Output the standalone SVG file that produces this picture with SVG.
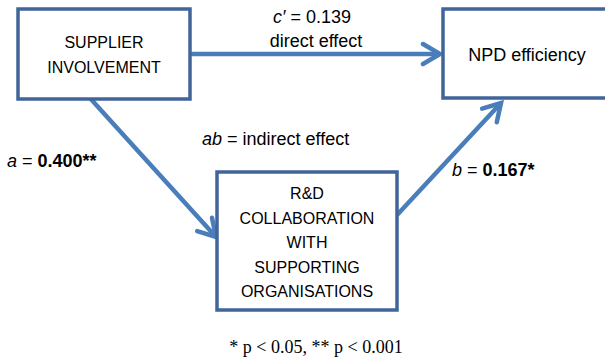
<svg xmlns="http://www.w3.org/2000/svg" width="605" height="360" viewBox="0 0 605 360">
<style>
.box{fill:#ffffff;stroke:#41659a;stroke-width:3.5}
.cap{font-family:"Liberation Sans",Arial,sans-serif;font-size:16px;fill:#000;text-anchor:middle}
.lbl{font-family:"Liberation Sans",Arial,sans-serif;font-size:18px;fill:#000}
.conn{stroke:#4a7ebb;stroke-width:4.5;fill:none}
.note{font-family:"Liberation Serif","Times New Roman",serif;font-size:18px;fill:#000;text-anchor:middle}
</style>
<defs>
<marker id="head" markerUnits="userSpaceOnUse" viewBox="-22 -14 26 28" markerWidth="26" markerHeight="28" refX="0" refY="0" orient="auto">
<path d="M -17 -10 L 0 0 L -17 10" fill="none" stroke="#4a7ebb" stroke-width="4.5" stroke-linecap="round" stroke-linejoin="miter"/>
</marker>
</defs>
<rect width="605" height="360" fill="#ffffff"/>
<g id="connectors">
<line class="conn" x1="190" y1="54" x2="440" y2="54" marker-end="url(#head)"/>
<line class="conn" x1="89" y1="97" x2="216" y2="237" marker-end="url(#head)"/>
<line class="conn" x1="397" y1="215" x2="501" y2="103" marker-end="url(#head)"/>
</g>
<g id="supplier">
<rect class="box" x="18" y="9" width="172" height="90"/>
<text class="cap" x="104" y="48">SUPPLIER</text>
<text class="cap" x="104" y="73">INVOLVEMENT</text>
</g>
<g id="npd">
<rect class="box" x="443" y="9" width="166" height="89"/>
<text class="lbl" x="527" y="61" text-anchor="middle">NPD efficiency</text>
</g>
<g id="rnd">
<rect class="box" x="217" y="172" width="180" height="138"/>
<text class="cap" x="307" y="199">R&amp;D</text>
<text class="cap" x="307" y="224">COLLABORATION</text>
<text class="cap" x="307" y="248">WITH</text>
<text class="cap" x="307" y="273">SUPPORTING</text>
<text class="cap" x="307" y="297">ORGANISATIONS</text>
</g>
<g id="labels">
<text class="lbl" x="312" y="23" text-anchor="middle"><tspan font-style="italic">c′</tspan> = 0.139</text>
<text class="lbl" x="316" y="47" text-anchor="middle">direct effect</text>
<text class="lbl" x="202" y="145"><tspan font-style="italic">ab</tspan> = indirect effect</text>
<text class="lbl" x="7" y="167"><tspan font-style="italic">a</tspan> = <tspan font-weight="bold">0.400**</tspan></text>
<text class="lbl" x="452" y="176"><tspan font-style="italic">b</tspan> = <tspan font-weight="bold">0.167*</tspan></text>
<text class="note" x="316" y="353">* p &lt; 0.05, ** p &lt; 0.001</text>
</g>
</svg>
